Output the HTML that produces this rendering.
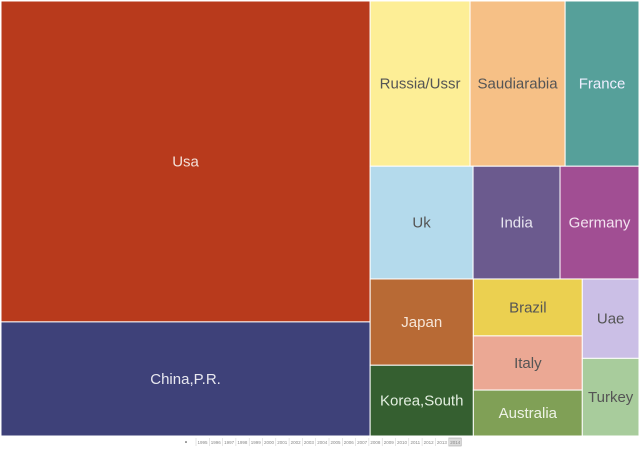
<!DOCTYPE html>
<html><head><meta charset="utf-8"><style>
body{margin:0;background:#fff;width:640px;height:451px;overflow:hidden;font-family:"Liberation Sans",sans-serif}
svg{display:block}
</style></head><body>
<svg id="chart" width="640" height="451"></svg>
<script>
const countries=["Usa","China,P.R.","Russia/Ussr","Saudiarabia","France","Uk","India","Germany","Japan","Korea,South","Brazil","Italy","Australia","Uae","Turkey"];
const values=[1184,421,165,157,122,116,98,89,89,73,62,59,50,45,44];
const colors=["#b83a1c","#3e4179","#fdee96","#f6c086","#56a09a","#b4daec","#6b5a8e","#a14e93","#b86a35","#355f30","#ebd050","#eba894","#80a056","#cbbfe6","#a8cc9c"];
const textColors=["#f3e0d8","#e8e8f0","#555","#555","#eef","#555","#e8e6f0","#f3e3f0","#f6e6d8","#e3efe0","#555","#555","#eef3e6","#555","#555"];
const years=["1995","1996","1997","1998","1999","2000","2001","2002","2003","2004","2005","2006","2007","2008","2009","2010","2011","2012","2013","2014"];
// layout structure: h = split horizontally (side by side), v = stacked
const tree={d:"h",c:[{d:"v",c:[0,1]},{d:"v",c:[{d:"h",c:[2,3,4]},{d:"h",c:[5,6,7]},{d:"h",c:[{d:"v",c:[8,9]},{d:"v",c:[10,11,12]},{d:"v",c:[13,14]}]}]}]};
const svg=document.getElementById('chart');
const NS="http://www.w3.org/2000/svg";
function sum(n){return typeof n==="number"?values[n]:n.c.reduce((a,b)=>a+sum(b),0);}
function layout(n,x,y,w,h){
  if(typeof n==="number"){draw(n,x,y,w,h);return;}
  const t=sum(n);let off=0;
  n.c.forEach(ch=>{const f=sum(ch)/t;
    if(n.d==="h"){layout(ch,x+off,y,w*f,h);off+=w*f;}
    else{layout(ch,x,y+off,w,h*f);off+=h*f;}});
}
function draw(i,x,y,w,h){
  const r=document.createElementNS(NS,"rect");
  r.setAttribute("x",x);r.setAttribute("y",y);r.setAttribute("width",w);r.setAttribute("height",h);
  r.setAttribute("fill",colors[i]);r.setAttribute("stroke","#fff");r.setAttribute("stroke-width","1");
  
  
  svg.appendChild(r);
  const t=document.createElementNS(NS,"text");
  t.setAttribute("x",x+w/2);t.setAttribute("y",y+h/2+5);t.setAttribute("text-anchor","middle");
  t.setAttribute("font-size","15");t.setAttribute("fill",textColors[i]);
  t.textContent=countries[i];
  
  
  svg.appendChild(t);
}
layout(tree,1,1,638,435);
// year slider
const dot=document.createElementNS(NS,"circle");
dot.setAttribute("cx",186);dot.setAttribute("cy",442);dot.setAttribute("r",0.8);dot.setAttribute("fill","#333");


svg.appendChild(dot);
years.forEach((yr,i)=>{
  const x=196+i*13.3;
  const t=document.createElementNS(NS,"text");
  t.setAttribute("x",x+6.5);t.setAttribute("y",444);t.setAttribute("text-anchor","middle");
  t.setAttribute("font-size","4.5");t.setAttribute("fill","#888");t.textContent=yr;
  
  
  if(i===years.length-1){
    const b=document.createElementNS(NS,"rect");
    b.setAttribute("x",x);b.setAttribute("y",438);b.setAttribute("width",12.5);b.setAttribute("height",8);
    b.setAttribute("fill","#ddd");b.setAttribute("stroke","#999");b.setAttribute("stroke-width","0.5");
    
    
    svg.appendChild(b);
  }
  svg.appendChild(t);
  const s=document.createElementNS(NS,"line");
  s.setAttribute("x1",x);s.setAttribute("x2",x);s.setAttribute("y1",438);s.setAttribute("y2",446);
  s.setAttribute("stroke","#ccc");s.setAttribute("stroke-width","0.5");
  
  
  svg.appendChild(s);
});
</script>
</body></html>
